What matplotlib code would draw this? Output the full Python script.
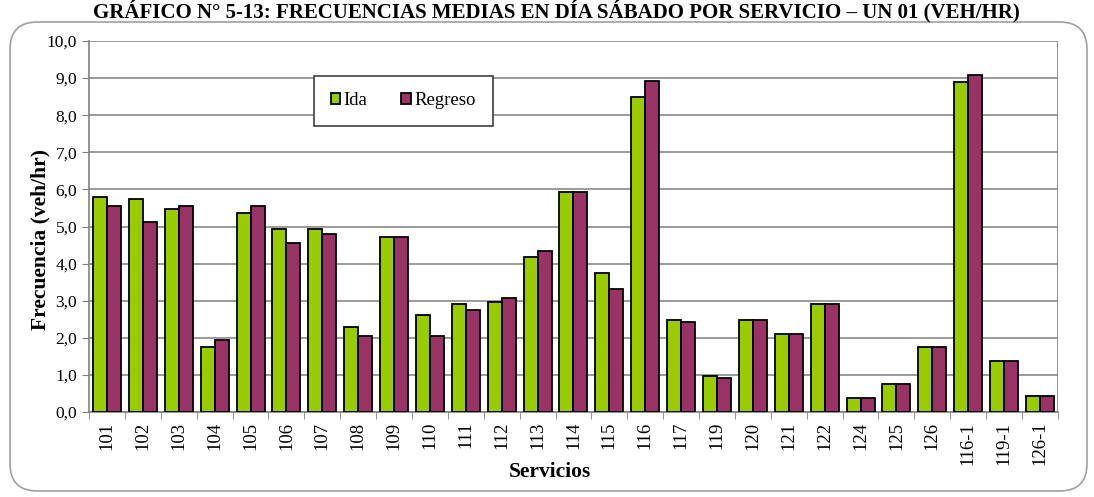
import numpy as np
from matplotlib import pyplot as plt
from matplotlib.patches import FancyBboxPatch

plt.rcParams['font.family'] = ['Liberation Serif', 'DejaVu Serif']

# servicios y frecuencias medias (veh/hr)
servicios = ['101', '102', '103', '104', '105', '106', '107', '108', '109', '110',
             '111', '112', '113', '114', '115', '116', '117', '119', '120', '121',
             '122', '124', '125', '126', '116-1', '119-1', '126-1']
ida = [5.80, 5.74, 5.47, 1.75, 5.36, 4.92, 4.92, 2.29, 4.73, 2.61,
       2.92, 2.97, 4.18, 5.93, 3.76, 8.49, 2.47, 0.98, 2.48, 2.09,
       2.92, 0.37, 0.75, 1.76, 8.90, 1.38, 0.42]
regreso = [5.56, 5.11, 5.56, 1.94, 5.56, 4.56, 4.80, 2.05, 4.73, 2.06,
           2.74, 3.06, 4.34, 5.93, 3.31, 8.92, 2.42, 0.93, 2.48, 2.09,
           2.92, 0.37, 0.75, 1.76, 9.09, 1.38, 0.42]
yticks = np.arange(0, 11, 1)

verde = '#99CC00'
morado = '#993366'

fig = plt.figure(figsize=(10.94, 4.97), dpi=100)
ax = fig.add_axes([0.0814, 0.171, 0.8856, 0.7465])

# marco redondeado del grafico
marco = FancyBboxPatch((10 / 1094, 6 / 497), 1077 / 1094, 469 / 497,
                       boxstyle='round,pad=0,rounding_size=0.025',
                       transform=fig.transFigure, fc='none', ec='#a0a0a0', lw=1.2,
                       mutation_aspect=1094 / 497)
fig.patches.append(marco)

x = np.arange(len(servicios))
w = 0.39
ax.bar(x - w / 2, ida, w, color=verde, edgecolor='black', lw=1.3, label='Ida', zorder=3)
ax.bar(x + w / 2, regreso, w, color=morado, edgecolor='black', lw=1.3, label='Regreso', zorder=3)

ax.set_xlim(-0.5, len(servicios) - 0.5)
ax.set_ylim(0, 10)
ax.set_yticks(yticks)
ax.set_yticklabels([f'{v:.1f}'.replace('.', ',') for v in yticks], fontsize=12.5)
ax.yaxis.grid(True, color='#808080', lw=1.1, zorder=0)
ax.set_axisbelow(True)

ax.set_xticks(x)
ax.set_xticklabels(servicios, rotation=90, fontsize=13.5)
ax.set_xticks(np.arange(-0.5, len(servicios), 1), minor=True)
ax.tick_params(axis='x', which='major', length=0, pad=7)
ax.tick_params(axis='x', which='minor', length=5, color='#808080', direction='out')
ax.tick_params(axis='y', length=5, color='#808080', direction='out')

for s in ['top', 'right']:
    ax.spines[s].set_visible(False)
for s in ['left', 'bottom']:
    ax.spines[s].set_color('#808080')
    ax.spines[s].set_linewidth(1.2)
ax.axvline(len(servicios) - 0.5, color='#808080', lw=1.2, zorder=1)

ax.set_ylabel('Frecuencia (veh/hr)', fontsize=15.5, fontweight='bold')
ax.yaxis.set_label_coords((50 - 89) / 969, 0.464)
ax.set_xlabel('Servicios', fontsize=15.5, fontweight='bold')
ax.xaxis.set_label_coords((550 - 89) / 969, -0.135)

leg = ax.legend(loc='upper left', bbox_to_anchor=(0.232, 0.907), ncol=2, fontsize=13.5,
                frameon=True, fancybox=False, handlelength=0.5, handleheight=0.5,
                handletextpad=0.2, columnspacing=1.8, borderpad=0.9, borderaxespad=0)
leg.get_frame().set_edgecolor('#404040')
leg.get_frame().set_linewidth(1.2)
leg.get_frame().set_alpha(1)

fig.text(0.509, 1 - 17 / 497,
         'GRÁFICO N° 5-13: FRECUENCIAS MEDIAS EN DÍA SÁBADO POR SERVICIO – UN 01 (VEH/HR)',
         ha='center', va='baseline', fontsize=15, fontweight='bold')

plt.savefig('out.png', dpi=100)
